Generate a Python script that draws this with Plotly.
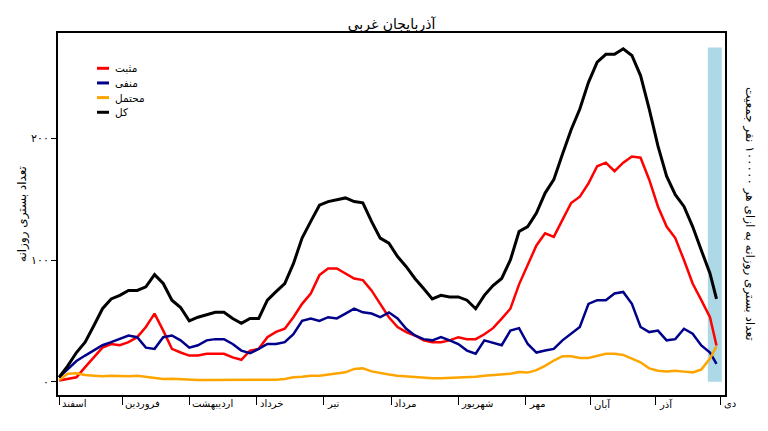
import pandas as pd
import plotly.graph_objects as go

# daily hospitalisations, West Azerbaijan (read every 4 days + last day)
dates = list(pd.date_range("2020-02-20", periods=76, freq="4D")) + [pd.Timestamp("2020-12-19")]

positive = [1, 2, 3.6, 12, 20, 28, 31, 30, 32.5, 36.6, 45, 56, 42, 27, 24, 21.5, 21.5, 23, 23, 23, 20, 18, 25.6, 27, 36.6, 41,
            43.5, 53, 64, 72.5, 87.6, 93, 93, 89, 84.8, 83.5, 75, 64, 53, 45, 40.8, 38, 34, 32.5, 32.5, 34, 36.6, 35, 35, 39, 44,
            51.8, 60, 80, 96, 112, 122, 119, 133, 146.8, 152, 163, 177, 180, 173, 180, 185, 184, 166, 144, 127.5, 118, 100, 80.7, 67, 53,
            29.8]
negative = [3.6, 10.5, 17, 21.5, 25.6, 30, 32.5, 35, 38, 36.6, 28, 27, 36.6, 38, 34, 28, 30, 34, 35, 35, 31, 25.6, 23.4, 27, 31, 31,
            32.5, 39, 50, 52, 50, 53, 52, 56, 60, 57, 56, 53, 57, 52, 43.5, 38, 35, 34, 36.6, 34, 31, 25.6, 23, 34, 32,
            30, 42, 44, 31, 24, 25.6, 27, 34, 39.4, 45, 64, 67, 67, 72.5, 73.8, 64, 45, 40.8, 42, 34, 35, 43.5, 39.4, 29.8, 24,
            14.6]
probable = [1.4, 6.5, 7, 5.5, 5, 4.5, 5, 4.5, 4.5, 5, 4, 3, 2.2, 2.5, 2, 1.6, 1.4, 1.4, 1.4, 1.4, 1.2, 1.2, 1.4, 1.4, 1.4, 1.6,
            2.2, 3.6, 4, 5, 5, 5.8, 7, 7.7, 10.5, 11, 8.5, 7, 6, 5, 4.4, 3.6, 3, 2.8, 2.8, 3, 3.2, 3.6, 4, 5, 5.5,
            6.3, 6.5, 8, 7.5, 9.5, 13, 17.4, 21, 21, 19.5, 19.5, 21.5, 23, 23, 22, 19, 16, 11, 9, 8.5, 9, 8.3, 7.7, 10, 19,
            29]
total = [3.6, 13, 24, 32.5, 46, 60, 68, 71, 75, 75, 78, 88, 80.7, 67, 61, 50, 53, 55, 57, 57, 52, 48, 52, 52, 67, 74,
         80.7, 97, 118, 131.7, 145, 148, 149.6, 151, 148, 147, 131.7, 118, 113.8, 102.8, 94.5, 84.8, 76.6, 68, 71, 69.7, 69.7, 67, 60, 71, 79,
         84.8, 100, 123.4, 127.5, 138.6, 155, 166, 186.8, 207, 224, 246, 262.5, 269, 269, 273.5, 268, 251.5, 224, 193.7, 168.9, 153.7, 144, 127.5, 108, 89,
         68]

month_starts = ["2020-02-20", "2020-03-20", "2020-04-20", "2020-05-21", "2020-06-21", "2020-07-22",
                "2020-08-22", "2020-09-22", "2020-10-22", "2020-11-21", "2020-12-21"]
month_names = ["اسفند", "فروردین", "اردیبهشت", "خرداد", "تیر", "مرداد", "شهریور", "مهر", "آبان", "آذر", "دی"]

left_ticks = [0, 100, 200]
right_ticks = [0, 2, 4, 6, 8]

fa = str.maketrans("0123456789", "۰۱۲۳۴۵۶۷۸۹")
FONT = "DejaVu Sans"

fig = go.Figure()
series = [("مثبت", positive, "#ff0000"), ("منفی", negative, "#00008b"),
          ("محتمل", probable, "#ffa500"), ("کل", total, "#000000")]
for name, vals, col in series:
    fig.add_trace(go.Scatter(x=dates, y=vals, name=name, mode="lines", showlegend=False,
                             line=dict(color=col, width=3 if col == "#000000" else 2.5)))

# legend drawn as small keys, like the original (short samples, tight rows)
for i, (name, vals, col) in enumerate(series):
    ly = 0.9025 - i * 0.0405
    fig.add_shape(type="line", xref="paper", yref="paper", x0=0.0585, x1=0.0765, y0=ly, y1=ly,
                  line=dict(color=col, width=3))
    fig.add_annotation(text=name, xref="paper", yref="paper", x=0.083, y=ly, xanchor="left",
                       yanchor="middle", showarrow=False, font=dict(size=10.5))

# highlighted last days
fig.add_shape(type="rect", xref="x", yref="y", x0="2020-12-15", x1="2020-12-21 10:00",
              y0=0, y1=274.5, fillcolor="#add8e6", line_width=0, layer="below")

fig.update_layout(
    width=768, height=431,
    margin=dict(l=58, r=43, t=33, b=36),
    plot_bgcolor="white", paper_bgcolor="white",
    font=dict(family=FONT, size=10, color="black"),
    title=dict(text="آذربایجان غربی", x=0.5, xref="paper", y=1 - 24 / 431, yref="container",
               yanchor="middle", font=dict(size=14, family=FONT)),
    xaxis=dict(range=["2020-02-19 12:00", "2020-12-22 22:00"], tickvals=month_starts,
               showticklabels=False, ticks="outside", ticklen=8, tickcolor="black",
               showline=True, linecolor="black", linewidth=2, mirror=True, showgrid=False, zeroline=False),
    yaxis=dict(range=[-10.9, 286.5], tickvals=left_ticks, ticktext=[str(v).translate(fa) for v in left_ticks],
               ticks="outside", ticklen=5, tickcolor="black", showline=True, linecolor="black", linewidth=2,
               mirror=True, showgrid=False, zeroline=False, tickfont=dict(size=11)),
    yaxis2=dict(range=[-0.336, 8.808], overlaying="y", side="right", tickvals=right_ticks,
                ticktext=[str(v).translate(fa) for v in right_ticks], ticks="outside", ticklen=4,
                tickcolor="black", showline=True, linecolor="black", linewidth=2, showgrid=False,
                zeroline=False, tickfont=dict(size=11)),
)

for d, m in zip(month_starts, month_names):
    fig.add_annotation(x=d, y=0, xref="x", yref="paper", text=m, showarrow=False,
                       xanchor="left", yanchor="top", xshift=1, yshift=-1, font=dict(size=10))

fig.add_annotation(text="تعداد بستری روزانه", xref="paper", yref="paper", x=0, y=0.5,
                   xanchor="center", yanchor="middle", xshift=-36, textangle=-90,
                   showarrow=False, font=dict(size=12))
fig.add_annotation(text="تعداد بستری روزانه به ازای هر ۱۰۰۰۰۰ نفر جمعیت", xref="paper", yref="paper",
                   x=1, y=0.5, xanchor="center", yanchor="middle", xshift=25, textangle=90,
                   showarrow=False, font=dict(size=12))

fig.write_html("out.html", config={"displayModeBar": False},
               post_script="document.body.style.margin='0';")
